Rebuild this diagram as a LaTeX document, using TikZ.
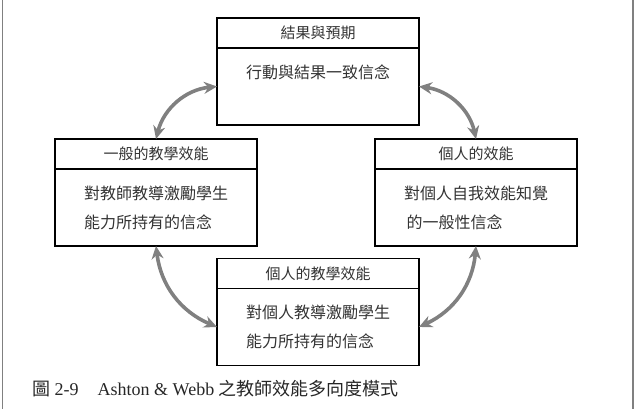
\documentclass[tikz,border=0pt]{standalone}
\usepackage{fontspec}
\setmainfont{Liberation Serif}
\newfontfamily\cjk{Noto Sans CJK TC}
\usetikzlibrary{positioning, arrows.meta}

\begin{document}
\begin{tikzpicture}[
  x=1pt, y=1pt,
  head/.style={rectangle, draw=black, line width=1.3pt, outer sep=0pt, inner sep=0pt, minimum width=202pt, minimum height=30pt, font=\cjk\fontsize{15pt}{18pt}\selectfont, text=black!80},
  belief/.style={rectangle, draw=black, line width=1.3pt, outer sep=0pt, inner sep=0pt, minimum width=202pt, minimum height=77pt, align=left, font=\cjk\fontsize{16pt}{29pt}\selectfont, text=black!80},
  link/.style={draw=gray, line width=3.6pt, {Stealth[length=13pt,width=12pt]}-{Stealth[length=13pt,width=12pt]}}
]
  \useasboundingbox (0,0) rectangle (637,-409);
  \draw [gray, line width=1.2pt] (2.5,0) -- (2.5,-409);
  \draw [gray, line width=1.2pt] (633,0) -- (633,-409);

  \node [head] (outhead) at (318,-33) {結果與預期};
  \node [belief, below=0pt of outhead] (outbody) {行動與結果一致信念\\\mbox{}};

  \node [head] (genhead) at (156,-154) {一般的教學效能};
  \node [belief, below=0pt of genhead] (genbody) {對教師教導激勵學生\\能力所持有的信念};

  \node [head] (selfhead) at (476,-154) {個人的效能};
  \node [belief, below=0pt of selfhead] (selfbody) {對個人自我效能知覺\\\,的一般性信念};

  \node [head] (teachhead) at (318,-273.5) {個人的教學效能};
  \node [belief, below=0pt of teachhead] (teachbody) {對個人教導激勵學生\\能力所持有的信念};

  \draw [link] (outbody.west) to[bend right=35] (genhead.north);
  \draw [link] (outbody.east) to[bend left=35] (selfhead.north);
  \draw [link] (genbody.south) to[bend right=30] (teachbody.west);
  \draw [link] (selfbody.south) to[bend left=30] (teachbody.east);

  \node [anchor=west, inner sep=0pt, text=black!85, font=\fontsize{18pt}{21pt}\selectfont] (caption) at (32,-389) {{\cjk 圖} 2-9\hspace{19pt}Ashton \& Webb {\cjk 之教師效能多向度模式}};
\end{tikzpicture}
\end{document}
